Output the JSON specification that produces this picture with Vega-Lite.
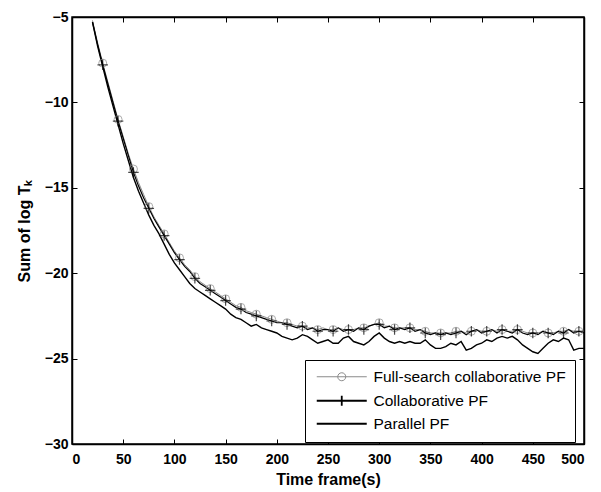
{
  "$schema": "https://vega.github.io/schema/vega-lite/v6.json",
  "width": 512,
  "height": 427,
  "autosize": "none",
  "padding": {"left": 72, "top": 17, "right": 17, "bottom": 48},
  "background": "white",
  "config": {
    "view": {"stroke": "black", "strokeWidth": 1.5},
    "font": "Liberation Sans",
    "axis": {
      "grid": false,
      "domainColor": "black",
      "domainWidth": 1.5,
      "tickColor": "black",
      "tickWidth": 1,
      "tickSize": -5,
      "labelFont": "Liberation Sans",
      "labelFontWeight": "bold",
      "labelFontSize": 14,
      "labelColor": "black",
      "titleFont": "Liberation Sans",
      "titleFontWeight": "bold",
      "titleFontSize": 16,
      "titleColor": "black"
    }
  },
  "data": {
    "values": [
      {"t":20,"Full-search collaborative PF":-5.2,"Collaborative PF":-5.3,"Parallel PF":-5.3},
      {"t":25,"Full-search collaborative PF":-6.5,"Collaborative PF":-6.6,"Parallel PF":-6.7},
      {"t":30,"Full-search collaborative PF":-7.7,"Collaborative PF":-7.8,"Parallel PF":-7.9},
      {"t":35,"Full-search collaborative PF":-8.8,"Collaborative PF":-8.9,"Parallel PF":-9.1},
      {"t":40,"Full-search collaborative PF":-9.9,"Collaborative PF":-10.0,"Parallel PF":-10.2},
      {"t":45,"Full-search collaborative PF":-11.0,"Collaborative PF":-11.1,"Parallel PF":-11.3},
      {"t":50,"Full-search collaborative PF":-12.0,"Collaborative PF":-12.1,"Parallel PF":-12.4},
      {"t":55,"Full-search collaborative PF":-13.0,"Collaborative PF":-13.1,"Parallel PF":-13.4},
      {"t":60,"Full-search collaborative PF":-13.9,"Collaborative PF":-14.1,"Parallel PF":-14.4},
      {"t":65,"Full-search collaborative PF":-14.7,"Collaborative PF":-14.9,"Parallel PF":-15.2},
      {"t":70,"Full-search collaborative PF":-15.4,"Collaborative PF":-15.6,"Parallel PF":-15.9},
      {"t":75,"Full-search collaborative PF":-16.1,"Collaborative PF":-16.2,"Parallel PF":-16.6},
      {"t":80,"Full-search collaborative PF":-16.7,"Collaborative PF":-16.8,"Parallel PF":-17.2},
      {"t":85,"Full-search collaborative PF":-17.2,"Collaborative PF":-17.3,"Parallel PF":-17.7},
      {"t":90,"Full-search collaborative PF":-17.7,"Collaborative PF":-17.8,"Parallel PF":-18.3},
      {"t":95,"Full-search collaborative PF":-18.2,"Collaborative PF":-18.3,"Parallel PF":-18.9},
      {"t":100,"Full-search collaborative PF":-18.7,"Collaborative PF":-18.8,"Parallel PF":-19.4},
      {"t":105,"Full-search collaborative PF":-19.1,"Collaborative PF":-19.2,"Parallel PF":-19.8},
      {"t":110,"Full-search collaborative PF":-19.5,"Collaborative PF":-19.6,"Parallel PF":-20.2},
      {"t":115,"Full-search collaborative PF":-19.8,"Collaborative PF":-19.9,"Parallel PF":-20.6},
      {"t":120,"Full-search collaborative PF":-20.2,"Collaborative PF":-20.3,"Parallel PF":-20.9},
      {"t":125,"Full-search collaborative PF":-20.5,"Collaborative PF":-20.6,"Parallel PF":-21.1},
      {"t":130,"Full-search collaborative PF":-20.7,"Collaborative PF":-20.8,"Parallel PF":-21.3},
      {"t":135,"Full-search collaborative PF":-20.9,"Collaborative PF":-21.0,"Parallel PF":-21.5},
      {"t":140,"Full-search collaborative PF":-21.1,"Collaborative PF":-21.2,"Parallel PF":-21.7},
      {"t":145,"Full-search collaborative PF":-21.3,"Collaborative PF":-21.4,"Parallel PF":-21.9},
      {"t":150,"Full-search collaborative PF":-21.5,"Collaborative PF":-21.6,"Parallel PF":-22.1},
      {"t":155,"Full-search collaborative PF":-21.7,"Collaborative PF":-21.8,"Parallel PF":-22.4},
      {"t":160,"Full-search collaborative PF":-21.9,"Collaborative PF":-22.0,"Parallel PF":-22.6},
      {"t":165,"Full-search collaborative PF":-22.0,"Collaborative PF":-22.1,"Parallel PF":-22.7},
      {"t":170,"Full-search collaborative PF":-22.2,"Collaborative PF":-22.3,"Parallel PF":-22.9},
      {"t":175,"Full-search collaborative PF":-22.3,"Collaborative PF":-22.4,"Parallel PF":-23.1},
      {"t":180,"Full-search collaborative PF":-22.4,"Collaborative PF":-22.5,"Parallel PF":-23.0},
      {"t":185,"Full-search collaborative PF":-22.5,"Collaborative PF":-22.6,"Parallel PF":-23.2},
      {"t":190,"Full-search collaborative PF":-22.6,"Collaborative PF":-22.7,"Parallel PF":-23.3},
      {"t":195,"Full-search collaborative PF":-22.7,"Collaborative PF":-22.8,"Parallel PF":-23.4},
      {"t":200,"Full-search collaborative PF":-22.8,"Collaborative PF":-22.9,"Parallel PF":-23.5},
      {"t":205,"Full-search collaborative PF":-22.9,"Collaborative PF":-22.9,"Parallel PF":-23.7},
      {"t":210,"Full-search collaborative PF":-22.9,"Collaborative PF":-23.0,"Parallel PF":-23.8},
      {"t":215,"Full-search collaborative PF":-23.0,"Collaborative PF":-23.1,"Parallel PF":-23.9},
      {"t":220,"Full-search collaborative PF":-23.1,"Collaborative PF":-23.2,"Parallel PF":-23.8},
      {"t":225,"Full-search collaborative PF":-23.1,"Collaborative PF":-23.1,"Parallel PF":-23.6},
      {"t":230,"Full-search collaborative PF":-23.2,"Collaborative PF":-23.3,"Parallel PF":-23.7},
      {"t":235,"Full-search collaborative PF":-23.2,"Collaborative PF":-23.2,"Parallel PF":-23.9},
      {"t":240,"Full-search collaborative PF":-23.3,"Collaborative PF":-23.4,"Parallel PF":-24.1},
      {"t":245,"Full-search collaborative PF":-23.2,"Collaborative PF":-23.3,"Parallel PF":-24.0},
      {"t":250,"Full-search collaborative PF":-23.3,"Collaborative PF":-23.3,"Parallel PF":-23.9},
      {"t":255,"Full-search collaborative PF":-23.3,"Collaborative PF":-23.4,"Parallel PF":-24.1},
      {"t":260,"Full-search collaborative PF":-23.2,"Collaborative PF":-23.2,"Parallel PF":-24.1},
      {"t":265,"Full-search collaborative PF":-23.3,"Collaborative PF":-23.4,"Parallel PF":-23.8},
      {"t":270,"Full-search collaborative PF":-23.3,"Collaborative PF":-23.3,"Parallel PF":-23.7},
      {"t":275,"Full-search collaborative PF":-23.3,"Collaborative PF":-23.4,"Parallel PF":-24.0},
      {"t":280,"Full-search collaborative PF":-23.2,"Collaborative PF":-23.2,"Parallel PF":-24.1},
      {"t":285,"Full-search collaborative PF":-23.2,"Collaborative PF":-23.3,"Parallel PF":-24.2},
      {"t":290,"Full-search collaborative PF":-23.1,"Collaborative PF":-23.1,"Parallel PF":-24.0},
      {"t":295,"Full-search collaborative PF":-23.0,"Collaborative PF":-23.0,"Parallel PF":-23.7},
      {"t":300,"Full-search collaborative PF":-22.9,"Collaborative PF":-23.0,"Parallel PF":-23.5},
      {"t":305,"Full-search collaborative PF":-23.1,"Collaborative PF":-23.2,"Parallel PF":-23.8},
      {"t":310,"Full-search collaborative PF":-23.1,"Collaborative PF":-23.1,"Parallel PF":-24.0},
      {"t":315,"Full-search collaborative PF":-23.2,"Collaborative PF":-23.3,"Parallel PF":-24.1},
      {"t":320,"Full-search collaborative PF":-23.2,"Collaborative PF":-23.2,"Parallel PF":-24.0},
      {"t":325,"Full-search collaborative PF":-23.2,"Collaborative PF":-23.3,"Parallel PF":-24.1},
      {"t":330,"Full-search collaborative PF":-23.2,"Collaborative PF":-23.2,"Parallel PF":-24.0},
      {"t":335,"Full-search collaborative PF":-23.3,"Collaborative PF":-23.4,"Parallel PF":-24.1},
      {"t":340,"Full-search collaborative PF":-23.3,"Collaborative PF":-23.3,"Parallel PF":-24.1},
      {"t":345,"Full-search collaborative PF":-23.4,"Collaborative PF":-23.5,"Parallel PF":-23.9},
      {"t":350,"Full-search collaborative PF":-23.5,"Collaborative PF":-23.6,"Parallel PF":-24.2},
      {"t":355,"Full-search collaborative PF":-23.5,"Collaborative PF":-23.5,"Parallel PF":-24.4},
      {"t":360,"Full-search collaborative PF":-23.5,"Collaborative PF":-23.6,"Parallel PF":-24.4},
      {"t":365,"Full-search collaborative PF":-23.5,"Collaborative PF":-23.5,"Parallel PF":-24.3},
      {"t":370,"Full-search collaborative PF":-23.5,"Collaborative PF":-23.6,"Parallel PF":-24.1},
      {"t":375,"Full-search collaborative PF":-23.4,"Collaborative PF":-23.5,"Parallel PF":-24.2},
      {"t":380,"Full-search collaborative PF":-23.4,"Collaborative PF":-23.4,"Parallel PF":-24.0},
      {"t":385,"Full-search collaborative PF":-23.5,"Collaborative PF":-23.6,"Parallel PF":-24.5},
      {"t":390,"Full-search collaborative PF":-23.4,"Collaborative PF":-23.4,"Parallel PF":-24.4},
      {"t":395,"Full-search collaborative PF":-23.3,"Collaborative PF":-23.3,"Parallel PF":-24.2},
      {"t":400,"Full-search collaborative PF":-23.4,"Collaborative PF":-23.5,"Parallel PF":-24.1},
      {"t":405,"Full-search collaborative PF":-23.4,"Collaborative PF":-23.4,"Parallel PF":-23.9},
      {"t":410,"Full-search collaborative PF":-23.3,"Collaborative PF":-23.3,"Parallel PF":-24.0},
      {"t":415,"Full-search collaborative PF":-23.4,"Collaborative PF":-23.5,"Parallel PF":-23.8},
      {"t":420,"Full-search collaborative PF":-23.3,"Collaborative PF":-23.3,"Parallel PF":-23.7},
      {"t":425,"Full-search collaborative PF":-23.4,"Collaborative PF":-23.4,"Parallel PF":-23.8},
      {"t":430,"Full-search collaborative PF":-23.4,"Collaborative PF":-23.5,"Parallel PF":-23.7},
      {"t":435,"Full-search collaborative PF":-23.3,"Collaborative PF":-23.3,"Parallel PF":-23.9},
      {"t":440,"Full-search collaborative PF":-23.4,"Collaborative PF":-23.5,"Parallel PF":-24.2},
      {"t":445,"Full-search collaborative PF":-23.5,"Collaborative PF":-23.6,"Parallel PF":-24.4},
      {"t":450,"Full-search collaborative PF":-23.5,"Collaborative PF":-23.5,"Parallel PF":-24.6},
      {"t":455,"Full-search collaborative PF":-23.5,"Collaborative PF":-23.6,"Parallel PF":-24.7},
      {"t":460,"Full-search collaborative PF":-23.4,"Collaborative PF":-23.4,"Parallel PF":-24.4},
      {"t":465,"Full-search collaborative PF":-23.5,"Collaborative PF":-23.5,"Parallel PF":-24.1},
      {"t":470,"Full-search collaborative PF":-23.5,"Collaborative PF":-23.6,"Parallel PF":-23.9},
      {"t":475,"Full-search collaborative PF":-23.4,"Collaborative PF":-23.4,"Parallel PF":-24.0},
      {"t":480,"Full-search collaborative PF":-23.4,"Collaborative PF":-23.5,"Parallel PF":-23.8},
      {"t":485,"Full-search collaborative PF":-23.3,"Collaborative PF":-23.3,"Parallel PF":-23.9},
      {"t":490,"Full-search collaborative PF":-23.4,"Collaborative PF":-23.5,"Parallel PF":-24.5},
      {"t":495,"Full-search collaborative PF":-23.4,"Collaborative PF":-23.4,"Parallel PF":-24.4},
      {"t":500,"Full-search collaborative PF":-23.4,"Collaborative PF":-23.5,"Parallel PF":-24.4}
    ]
  },
  "transform": [
    {"fold": ["Full-search collaborative PF", "Collaborative PF", "Parallel PF"], "as": ["series", "value"]}
  ],
  "resolve": {"axis": {"x": "independent", "y": "independent"}},
  "layer": [
    {
      "mark": {"type": "line", "clip": true},
      "encoding": {
        "x": {"field": "t", "type": "quantitative", "scale": {"domain": [0, 500], "nice": false},
              "axis": {"orient": "bottom", "values": [0,50,100,150,200,250,300,350,400,450,500], "title": "Time frame(s)", "labelPadding": 13, "titlePadding": 5}},
        "y": {"field": "value", "type": "quantitative", "scale": {"domain": [-30, -5], "nice": false, "zero": false},
              "axis": {"orient": "left", "values": [-30,-25,-20,-15,-10,-5], "title": "Sum of log Tₖ", "labelPadding": 9, "titlePadding": 12}},
        "color": {"field": "series", "type": "nominal",
          "scale": {"domain": ["Full-search collaborative PF", "Collaborative PF", "Parallel PF"], "range": ["#8a8a8a", "#000000", "#000000"]},
          "legend": {
            "title": null,
            "orient": "none",
            "legendX": 233,
            "legendY": 343,
            "strokeColor": "black",
            "fillColor": "white",
            "padding": 9,
            "cornerRadius": 0,
            "rowPadding": 6,
            "labelFont": "Liberation Sans",
            "labelFontSize": 15.5,
            "labelLimit": 0,
            "labelColor": "black",
            "labelOffset": 44,
            "symbolSize": 100,
            "symbolStrokeWidth": 1.5,
            "encoding": {
              "symbols": {
                "shape": {"value": {"expr": "datum.value === 'Full-search collaborative PF' ? 'M-1,0H9M3.2,0A0.8,0.8 0 1 1 4.8,0A0.8,0.8 0 1 1 3.2,0' : (datum.value === 'Collaborative PF' ? 'M-1,0H9M4,-1V1' : 'M-1,0H9')"}},
                "strokeWidth": {"value": {"expr": "datum.value === 'Full-search collaborative PF' ? 1 : (datum.value === 'Collaborative PF' ? 1.8 : 2.2)"}},
                "fill": {"value": "transparent"}
              }
            }
          }
        },
        "strokeWidth": {"field": "series", "type": "nominal",
          "scale": {"domain": ["Full-search collaborative PF", "Collaborative PF", "Parallel PF"], "range": [1, 1.4, 2.6]},
          "legend": null}
      }
    },
    {
      "transform": [
        {"filter": "datum.series !== 'Parallel PF' && datum.t % 15 === 0"}
      ],
      "mark": {"type": "point", "filled": false, "clip": true},
      "encoding": {
        "x": {"field": "t", "type": "quantitative", "scale": {"domain": [0, 500], "nice": false},
              "axis": {"orient": "top", "values": [0,50,100,150,200,250,300,350,400,450,500], "labels": false, "title": null}},
        "y": {"field": "value", "type": "quantitative", "scale": {"domain": [-30, -5], "nice": false, "zero": false},
              "axis": {"orient": "right", "values": [-30,-25,-20,-15,-10,-5], "labels": false, "title": null}},
        "shape": {"field": "series", "type": "nominal",
          "scale": {"domain": ["Full-search collaborative PF", "Collaborative PF"], "range": ["circle", "M-1,0H1M0,-1V1"]},
          "legend": null},
        "size": {"field": "series", "type": "nominal",
          "scale": {"domain": ["Full-search collaborative PF", "Collaborative PF"], "range": [64, 110]},
          "legend": null},
        "stroke": {"field": "series", "type": "nominal",
          "scale": {"domain": ["Full-search collaborative PF", "Collaborative PF"], "range": ["#8a8a8a", "#000000"]},
          "legend": null},
        "strokeWidth": {"field": "series", "type": "nominal",
          "scale": {"domain": ["Full-search collaborative PF", "Collaborative PF"], "range": [1, 1.8]},
          "legend": null}
      }
    }
  ]
}
